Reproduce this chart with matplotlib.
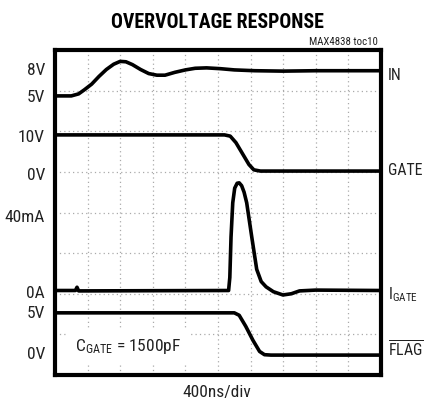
import numpy as np
import matplotlib
matplotlib.use('Agg')
import matplotlib.pyplot as plt
import matplotlib.transforms as mtransforms

plt.rcParams['font.family'] = ['Roboto Condensed', 'DejaVu Sans']
plt.rcParams['mathtext.fontset'] = 'custom'
plt.rcParams['mathtext.rm'] = 'Roboto Condensed'
plt.rcParams['mathtext.it'] = 'Roboto Condensed'
plt.rcParams['mathtext.bf'] = 'Roboto Condensed:bold'

# time axis in ns (400ns/div, 10 div), vertical in scope divisions (8 div)
in_t = [0, 200, 290, 360, 450, 540, 630, 720, 800, 870, 950, 1050, 1150, 1250,
        1350, 1470, 1600, 1720, 1860, 2030, 2200, 2450, 2800, 3200, 3600, 4000]
in_v = [6.87, 6.87, 6.92, 7.02, 7.16, 7.35, 7.52, 7.65, 7.72, 7.71, 7.64, 7.52,
        7.42, 7.38, 7.38, 7.45, 7.51, 7.55, 7.56, 7.54, 7.51, 7.49, 7.48, 7.49,
        7.49, 7.49]

gate_t = [0, 2080, 2150, 2220, 2300, 2380, 2440, 2520, 4000]
gate_v = [5.91, 5.91, 5.88, 5.72, 5.45, 5.18, 5.05, 5.02, 5.02]

igate_t = [0, 250, 270, 290, 2130, 2145, 2160, 2181, 2205, 2235, 2260, 2290,
           2320, 2352, 2414, 2475, 2530, 2590, 2680, 2797, 2900, 3000, 3200, 4000]
igate_v = [2.08, 2.08, 2.16, 2.07, 2.08, 2.4, 3.4, 4.24, 4.6, 4.72, 4.73, 4.66,
           4.5, 4.24, 3.4, 2.6, 2.3, 2.17, 2.05, 1.97, 2.0, 2.07, 2.09, 2.08]

flag_t = [0, 2200, 2260, 2340, 2430, 2510, 2570, 2650, 4000]
flag_v = [1.53, 1.53, 1.47, 1.2, 0.85, 0.58, 0.5, 0.49, 0.49]

# label baselines, in divisions
left_labels = ['8V', '5V', '10V', '0V', '40mA', '0A', '5V', '0V']
left_pos = [7.39, 6.72, 5.74, 4.80, 3.77, 1.90, 1.40, 0.39]
right_labels = ['IN', 'GATE', r'I$_{\mathrm{GATE}}$', r'$\overline{\mathrm{FLAG}}$']
right_pos = [7.27, 4.93, 1.87, 0.44]

fig = plt.figure(figsize=(4.24, 4.09), dpi=100)
ax = fig.add_axes([55/424, 34/409, 326/424, 325/409])

ax.set_xlim(0, 4000)
ax.set_ylim(0, 8)
ax.set_xticks(np.arange(0, 4001, 400))
ax.set_yticks(np.arange(0, 9, 1))
ax.grid(True, color='#aaaaaa', linestyle=(0, (1, 2.5)), lw=0.9)
ax.tick_params(length=0, labelbottom=False, labelleft=False)
for s in ax.spines.values():
    s.set_linewidth(3)
    s.set_color('black')

for t, v in [(in_t, in_v), (gate_t, gate_v), (igate_t, igate_v), (flag_t, flag_v)]:
    ax.plot(t, v, color='black', lw=2.6, solid_capstyle='butt', zorder=3)

trans = mtransforms.blended_transform_factory(ax.transAxes, ax.transData)
for lab, lv in zip(left_labels, left_pos):
    ax.text(-0.031, lv, lab, transform=trans, ha='right', va='baseline',
            fontsize=12.5, clip_on=False, color='#222222')
for lab, lv in zip(right_labels, right_pos):
    ax.text(1.022, lv, lab, transform=trans, ha='left', va='baseline',
            fontsize=11.4, clip_on=False, color='#222222')

ax.text(0.061, 0.59, r'C$_{\mathrm{GATE}}$ = 1500pF', transform=trans,
        ha='left', va='baseline', fontsize=12.5, zorder=4, color='#222222',
        bbox=dict(facecolor='white', edgecolor='none', pad=6))

fig.text(217/424, 1 - 28/409, 'OVERVOLTAGE RESPONSE', ha='center', va='baseline',
         fontsize=14.3, fontweight='bold')
fig.text(378/424, 1 - 45/409, 'MAX4838 toc10', ha='right', va='baseline',
         fontsize=7.8, color='#222222')
fig.text(217/424, 1 - 397/409, '400ns/div', ha='center', va='baseline',
         fontsize=12.5, color='#222222')

fig.savefig('out.png', dpi=100)
